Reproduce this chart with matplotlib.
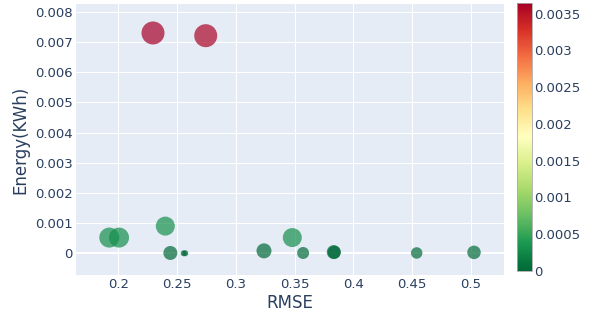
import matplotlib
matplotlib.use('Agg')
import matplotlib.pyplot as plt
import numpy as np
from matplotlib import rcParams

rcParams['font.family'] = ['DejaVu Sans']

# Model results: error, energy use, colour metric and bubble size (px diameter)
rmse = [0.2295, 0.2744, 0.1923, 0.2006, 0.2400, 0.3481, 0.2443, 0.2556,
        0.2570, 0.3240, 0.3573, 0.3834, 0.3838, 0.4540, 0.5028]
energy = [0.00730, 0.00721, 0.00052, 0.00052, 0.00090, 0.00052, 0.00001, 0.00000,
          0.00000, 0.00008, 0.00001, 0.00004, 0.00003, 0.00001, 0.00003]
color_value = [0.00365, 0.00360, 0.00029, 0.00029, 0.00030, 0.00029, 0.00002, 0.00001,
               0.00001, 0.00002, 0.00003, 0.00001, 0.00001, 0.00003, 0.00003]
bubble_px = [23, 23, 20, 20, 19, 19, 14, 6, 6, 15, 12, 14, 13, 11.5, 13.5]

x_ticks = [0.2, 0.25, 0.3, 0.35, 0.4, 0.45, 0.5]
y_ticks = [0, 0.001, 0.002, 0.003, 0.004, 0.005, 0.006, 0.007, 0.008]
cbar_ticks = [0, 0.0005, 0.001, 0.0015, 0.002, 0.0025, 0.003, 0.0035]

text_color = '#2a3f5f'
W, H = 593, 320
fig = plt.figure(figsize=(W / 100, H / 100), dpi=100)

ax = fig.add_axes([75.7 / W, (H - 275.3) / H, 428.6 / W, 271.3 / H])
ax.set_facecolor('#E5ECF6')
for s in ax.spines.values():
    s.set_visible(False)

sizes = (np.array(bubble_px) * 0.72) ** 2
sc = ax.scatter(rmse, energy, s=sizes, c=color_value, cmap='RdYlGn_r',
                vmin=0, vmax=max(color_value), alpha=0.7, linewidths=0, zorder=3)

ax.set_xlim(0.1637, 0.5286)
ax.set_ylim(-0.00073, 0.00826)
ax.set_xticks(x_ticks)
ax.set_xticklabels([f'{v:g}' for v in x_ticks])
ax.set_yticks(y_ticks)
ax.set_yticklabels([f'{v:g}' for v in y_ticks])
ax.grid(color='white', linewidth=0.72, zorder=0)
ax.axhline(0, color='white', linewidth=1.4, zorder=1)
ax.set_axisbelow(True)
ax.tick_params(length=0, labelsize=9.5, colors=text_color, pad=2)
ax.set_xlabel('RMSE', fontsize=12, color=text_color, labelpad=2)
ax.set_ylabel('Energy(KWh)', fontsize=12, color=text_color, labelpad=4)

cax = fig.add_axes([517 / W, (H - 270.7) / H, 14.5 / W, 268 / H])
cb = fig.colorbar(sc, cax=cax, ticks=cbar_ticks)
cb.solids.set_alpha(1)
cb.outline.set_linewidth(0.6)
cb.outline.set_edgecolor('#aaaaaa')
cax.tick_params(length=0, labelsize=9.5, colors=text_color, pad=2)
cax.set_yticklabels([f'{v:g}' for v in cbar_ticks])

fig.savefig('out.png', dpi=100)
